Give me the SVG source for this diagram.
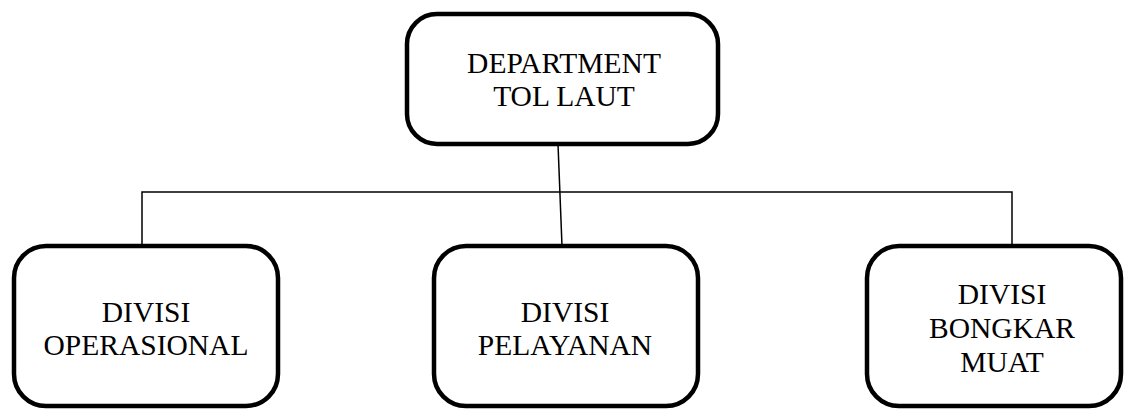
<svg xmlns="http://www.w3.org/2000/svg" width="1127" height="410" viewBox="0 0 1127 410">
<style>
.box{fill:#fff;stroke:#000;stroke-width:4.5}
.lbl{font-family:"Liberation Serif","Times New Roman",serif;font-size:29.5px;fill:#000;text-anchor:middle}
.con{stroke:#000;stroke-width:1.5;fill:none}
</style>
<rect width="1127" height="410" fill="#fff"/>
<g id="connectors">
<line class="con" x1="558" y1="144" x2="562" y2="246"/>
<polyline class="con" points="142,246 142,192 1012,192 1012,246"/>
</g>
<g id="dept">
<rect class="box" x="407" y="14" width="311" height="130" rx="30"/>
<text class="lbl" x="564" y="73">DEPARTMENT</text>
<text class="lbl" x="564" y="106">TOL LAUT</text>
</g>
<g id="operasional">
<rect class="box" x="14" y="246" width="264" height="160" rx="32"/>
<text class="lbl" x="146" y="322">DIVISI</text>
<text class="lbl" x="146" y="355">OPERASIONAL</text>
</g>
<g id="pelayanan">
<rect class="box" x="434" y="246" width="264" height="160" rx="32"/>
<text class="lbl" x="565" y="322">DIVISI</text>
<text class="lbl" x="565" y="355">PELAYANAN</text>
</g>
<g id="bongkar">
<rect class="box" x="867" y="246" width="254" height="160" rx="32"/>
<text class="lbl" x="1002" y="304">DIVISI</text>
<text class="lbl" x="1002" y="338">BONGKAR</text>
<text class="lbl" x="1002" y="372">MUAT</text>
</g>
</svg>
